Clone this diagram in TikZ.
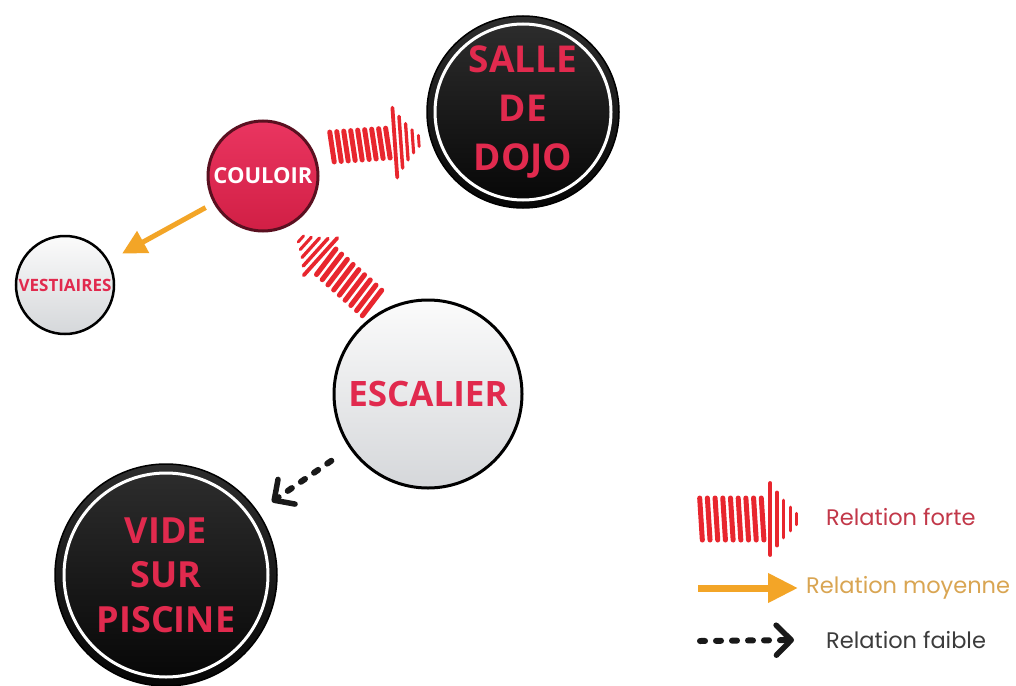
\documentclass[tikz,border=0pt]{standalone}
\usepackage{fontspec}
\setmainfont{Open Sans}
\newfontfamily\legendfont{Poppins}
\usetikzlibrary{arrows.meta,calc}
\definecolor{crim}{HTML}{E12A4E}
\definecolor{strongred}{HTML}{E8262E}
\definecolor{orangearr}{HTML}{F3A527}
\definecolor{fortetxt}{HTML}{C23849}
\definecolor{moytxt}{HTML}{D9A552}
\definecolor{faibletxt}{HTML}{3C3C3C}
\definecolor{couloirtop}{HTML}{EA3560}
\definecolor{couloirbot}{HTML}{D11F45}
\definecolor{couloirrim}{HTML}{5A1020}
\definecolor{greytop}{HTML}{FBFBFB}
\definecolor{greybot}{HTML}{D5D7DA}
\definecolor{darktop}{HTML}{2E2E2E}
\definecolor{darkbot}{HTML}{060606}
\tikzset{
  darkball/.style={circle, inner sep=0pt, draw=black, line width=1.5pt,
    top color=darktop, bottom color=darkbot, text=crim, align=center},
  greyball/.style={circle, inner sep=0pt, draw=black, line width=2.5pt,
    top color=greytop, bottom color=greybot, text=crim, align=center},
  redball/.style={circle, inner sep=0pt, draw=couloirrim, line width=3pt,
    top color=couloirtop, bottom color=couloirbot, text=white, align=center},
  ring/.style={draw=white, line width=3pt},
  strongstroke/.style={draw=strongred, line width=5pt, line cap=round},
  medium/.style={draw=orangearr, line width=5pt,
    -{Triangle[length=24pt,width=24pt]}},
  weak/.style={draw=black!90, line width=6pt, line cap=round,
    dash pattern=on 5pt off 11pt,
    -{Straight Barb[length=15pt,width=30pt,line width=5.5pt,round]}},
  legendtext/.style={anchor=west, inner sep=0pt, font=\legendfont\fontsize{22.5}{26}\selectfont}
}
\newcommand\strongarrow[2]{%
  \foreach \k in {0,...,8}{\draw[strongstroke] ({\k*7-1.2},-#1) -- ({\k*7+1.2},#1);}
  \draw[strongstroke,line width=3.8pt] (63,-#2) -- (63,#2);
  \draw[strongstroke,line width=3.5pt] (69,{-0.74*#2}) -- (69,{0.74*#2});
  \draw[strongstroke,line width=3.3pt] (75,{-0.52*#2}) -- (75,{0.52*#2});
  \draw[strongstroke,line width=3.1pt] (81,{-0.33*#2}) -- (81,{0.33*#2});
  \draw[strongstroke,line width=2.9pt] (87,{-0.16*#2}) -- (87,{0.16*#2});
}
\begin{document}
\begin{tikzpicture}[x=1pt,y=-1pt]
\useasboundingbox (0,0) rectangle (1016,685);
\fill[white] (0,0) rectangle (1016,685);

% nodes
\node[darkball, minimum size=192pt, font=\bfseries\fontsize{37}{49}\selectfont] (dojo) at (523,112) {SALLE\\DE\\DOJO};
\draw[ring] (dojo.center) circle[radius=88pt];
\node[darkball, minimum size=222pt, font=\bfseries\fontsize{36}{44.5}\selectfont] (vide) at (166,575) {VIDE\\SUR\\PISCINE};
\draw[ring] (vide.center) circle[radius=102pt];
\node[redball, minimum size=110pt, font=\bfseries\fontsize{22}{26}\selectfont] (couloir) at (263,176) {COULOIR};
\node[greyball, minimum size=98pt, font=\bfseries\fontsize{17}{20}\selectfont] (vest) at (65,285) {VESTIAIRES};
\node[greyball, minimum size=188pt, line width=3pt, font=\bfseries\fontsize{35}{42}\selectfont] (esc) at (428,394) {ESCALIER};

% strong relations
\begin{scope}[shift={(332,147)}, rotate=4]
  \strongarrow{15}{35}
\end{scope}
\begin{scope}[shift={(372,303)}, rotate=138, xscale=1.1]
  \strongarrow{16}{25}
\end{scope}

% medium relation
\draw[medium, shorten <=9pt, shorten >=15pt] (couloir) -- (vest);
% weak relation
\draw[weak, shorten <=22pt, shorten >=17pt] (esc) -- (vide);

% legend
\node[legendtext, text=fortetxt] (lforte) at (826,517) {Relation forte};
\node[legendtext, text=moytxt] (lmoy) at (806,588) {Relation moyenne};
\node[legendtext, text=faibletxt] (lfaible) at (826,640) {Relation faible};
\begin{scope}[shift={(701,519)}, xscale=1.1]
  \strongarrow{21}{36}
\end{scope}
\coordinate (lmoystart) at (698,588);
\draw[orangearr, line width=7pt, -{Triangle[length=30pt,width=28pt]}] (lmoystart) -- ([xshift=-8pt]lmoy.west);
\coordinate (lfaiblestart) at (700,641);
\draw[weak] (lfaiblestart) -- ([xshift=-32pt]lfaible.west);
\end{tikzpicture}
\end{document}
